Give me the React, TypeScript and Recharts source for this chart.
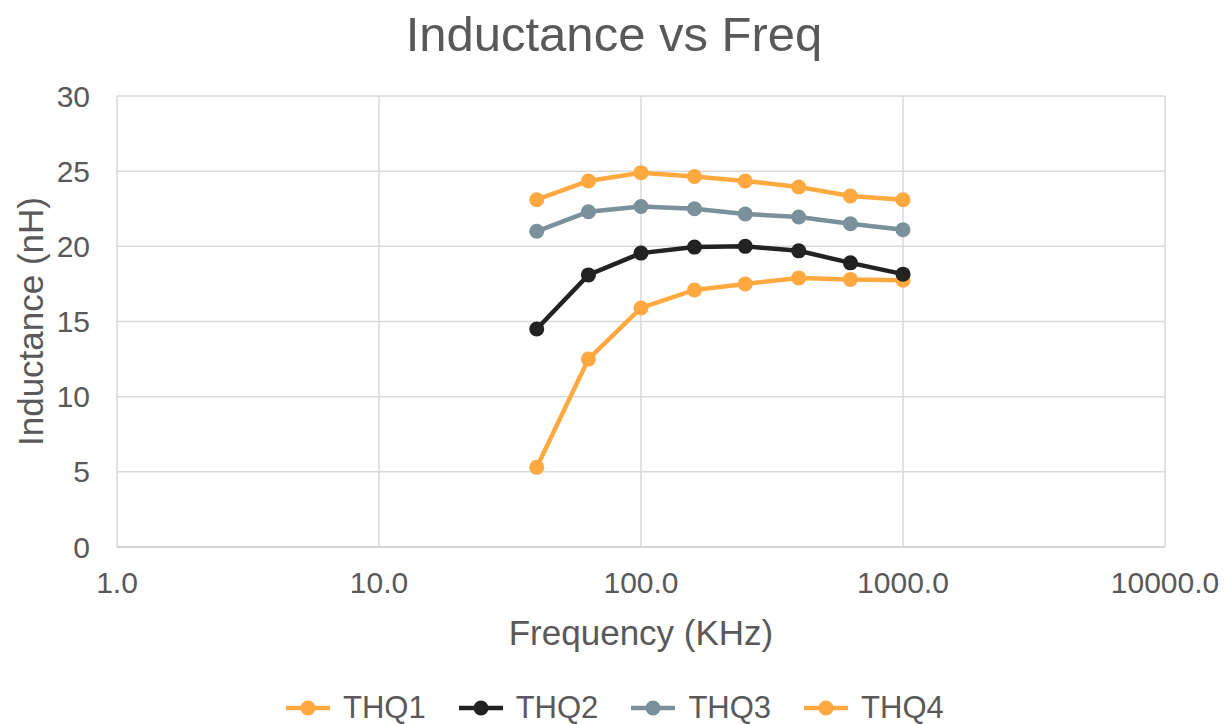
import React from 'react';
import { CartesianGrid, Line, LineChart, XAxis, YAxis } from 'recharts';

const freqs = [40, 63, 100, 160, 250, 400, 630, 1000];
const thq1 = [5.3, 12.5, 15.9, 17.1, 17.5, 17.9, 17.8, 17.75];
const thq2 = [14.5, 18.1, 19.55, 19.95, 20.0, 19.7, 18.9, 18.15];
const thq3 = [21.0, 22.3, 22.65, 22.5, 22.15, 21.95, 21.5, 21.1];
const thq4 = [23.1, 24.35, 24.9, 24.65, 24.35, 23.95, 23.35, 23.1];
const xTicks = [1, 10, 100, 1000, 10000];
const yTicks = [0, 5, 10, 15, 20, 25, 30];

const series = [
  { key: 'THQ1', values: thq1, color: '#FFA940' },
  { key: 'THQ2', values: thq2, color: '#222222' },
  { key: 'THQ3', values: thq3, color: '#7A909A' },
  { key: 'THQ4', values: thq4, color: '#FFA940' },
];

const rows = freqs.map((f, i) => {
  const row: Record<string, number> = { freq: f };
  series.forEach((s) => {
    row[s.key] = s.values[i];
  });
  return row;
});

const FONT = '"Liberation Sans", Arial, sans-serif';
const TEXT = '#595959';

function YLabel(props: any) {
  const vb = props.viewBox || { x: 0, y: 96, width: 117, height: 451 };
  const cy = vb.y + vb.height / 2;
  return (
    <text
      x={30}
      y={cy}
      transform={`rotate(-90, 30, ${cy})`}
      textAnchor="middle"
      dominantBaseline="central"
      fontSize={35}
      fill={TEXT}
      fontFamily={FONT}
    >
      Inductance (nH)
    </text>
  );
}

function XLabel(props: any) {
  const vb = props.viewBox || { x: 117, y: 547, width: 1048, height: 100 };
  return (
    <text x={vb.x + vb.width / 2} y={645} textAnchor="middle" fontSize={35} fill={TEXT} fontFamily={FONT}>
      Frequency (KHz)
    </text>
  );
}

export default function App() {
  return (
    <div style={{ position: 'absolute', left: 0, top: 0, width: 1228, height: 724, background: '#fff', fontFamily: FONT }}>
      <div
        style={{
          position: 'absolute',
          left: 0,
          top: 6,
          width: 1228,
          textAlign: 'center',
          fontSize: 49,
          color: TEXT,
          lineHeight: '56px',
        }}
      >
        Inductance vs Freq
      </div>
      <LineChart width={1228} height={724} data={rows} margin={{ top: 96, right: 63, left: 0, bottom: 77 }}>
        <CartesianGrid stroke="#d9d9d9" strokeWidth={1.5} />
        <XAxis
          dataKey="freq"
          type="number"
          scale="log"
          domain={[1, 10000]}
          ticks={xTicks}
          allowDataOverflow
          tickFormatter={(v: number) => v.toFixed(1)}
          tick={{ fontSize: 30, fill: TEXT, fontFamily: FONT }}
          tickLine={false}
          tickSize={0}
          tickMargin={25}
          axisLine={{ stroke: '#d0d0d0', strokeWidth: 1.5 }}
          height={100}
          label={<XLabel />}
        />
        <YAxis
          type="number"
          domain={[0, 30]}
          ticks={yTicks}
          tick={{ fontSize: 30, fill: TEXT, fontFamily: FONT }}
          tickLine={false}
          tickSize={0}
          tickMargin={27}
          axisLine={false}
          width={117}
          label={<YLabel />}
        />
        {series.map((s) => (
          <Line
            key={s.key}
            dataKey={s.key}
            stroke={s.color}
            strokeWidth={4.5}
            dot={{ r: 7.5, fill: s.color, stroke: 'none', strokeWidth: 0 }}
            activeDot={false}
            isAnimationActive={false}
          />
        ))}
      </LineChart>
      <div
        style={{
          position: 'absolute',
          left: 286,
          top: 688,
          display: 'flex',
          alignItems: 'center',
          fontSize: 31,
          color: TEXT,
          lineHeight: '40px',
        }}
      >
        {series.map((s) => (
          <div key={s.key} style={{ display: 'flex', alignItems: 'center', marginRight: 33 }}>
            <svg width={44} height={20} style={{ marginRight: 13 }}>
              <line x1={0} y1={10} x2={44} y2={10} stroke={s.color} strokeWidth={4.5} />
              <circle cx={22} cy={10} r={7.5} fill={s.color} />
            </svg>
            <span>{s.key}</span>
          </div>
        ))}
      </div>
    </div>
  );
}
